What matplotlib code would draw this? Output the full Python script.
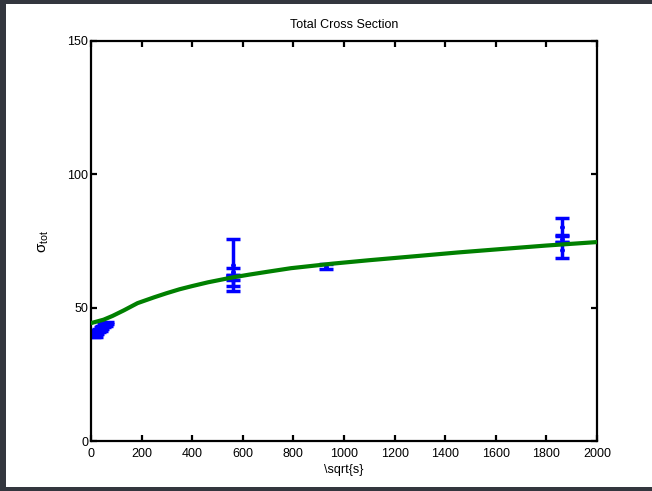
import matplotlib
matplotlib.use('Agg')
import matplotlib.pyplot as plt
from matplotlib.patches import Rectangle
import numpy as np

plt.rcParams['font.family'] = ['Liberation Sans', 'DejaVu Sans']
plt.rcParams['mathtext.fontset'] = 'custom'
plt.rcParams['mathtext.rm'] = 'Liberation Sans'
plt.rcParams['mathtext.it'] = 'Liberation Sans:italic'

# Measured total cross sections (low energy cluster, 546, 900, 1800 GeV)
dataX = [12, 20, 24, 31, 38, 45, 53, 60, 63]
dataY = [40.0, 39.9, 40.8, 41.4, 42.0, 42.5, 43.2, 43.8, 44.2]
dataErr = [1.0, 0.8, 0.7, 0.6, 0.6, 0.5, 0.6, 0.6, 0.5]

dataX += [560, 560, 560, 560]
dataY += [66.0, 63.4, 61.3, 60.2]
dataErr += [9.8, 1.5, 0.9, 2.0]

dataX += [930]
dataY += [65.3]
dataErr += [0.9]

dataX += [1860, 1860, 1860]
dataY += [80.4, 75.8, 71.7]
dataErr += [3.2, 1.2, 2.9]

# Fitted curve
fitX = [0, 50, 85, 130, 184, 250, 298, 350, 400, 462, 557, 626, 700, 790,
        954, 1100, 1282, 1450, 1610, 1800, 2000]
fitY = [44.2, 45.5, 46.9, 49.0, 51.7, 53.9, 55.4, 56.9, 58.1, 59.5, 61.3,
        62.4, 63.5, 64.8, 66.5, 67.8, 69.3, 70.7, 71.9, 73.3, 74.6]

fig = plt.figure(figsize=(6.52, 4.91), dpi=100)
fig.patch.set_facecolor('#33363e')
bg = Rectangle((6/652, 4/491), 646/652, 483/491, transform=fig.transFigure,
               facecolor='white', edgecolor='none', zorder=-10)
fig.patches.append(bg)

ax = fig.add_axes([91/652, 1 - 441/491, 506/652, 400/491])
ax.set_facecolor('white')

ax.errorbar(dataX, dataY, yerr=dataErr, fmt='.', color='blue', ecolor='blue',
            elinewidth=2.5, capsize=5, capthick=2.5, markersize=5, zorder=2)
ax.plot(fitX, fitY, color=(0, 0.5, 0), linewidth=3, zorder=3)

ax.set_xlim(0, 2000)
ax.set_ylim(0, 150)
ax.set_xticks(np.arange(0, 2001, 200))
ax.set_yticks([0, 50, 100, 150])

for s in ax.spines.values():
    s.set_linewidth(1.6)
ax.tick_params(direction='in', top=True, right=True, length=4, width=1.6, labelsize=9)
ax.tick_params(axis='y', pad=2)
ax.tick_params(axis='x', pad=5)

ax.set_title('Total Cross Section', fontsize=9, pad=9)
ax.set_xlabel(r'\sqrt{s}', fontsize=9, labelpad=3)
ax.set_ylabel('σ$_{\\mathrm{tot}}$', fontsize=11, labelpad=12)

fig.savefig('out.png', dpi=100, facecolor=fig.get_facecolor())
